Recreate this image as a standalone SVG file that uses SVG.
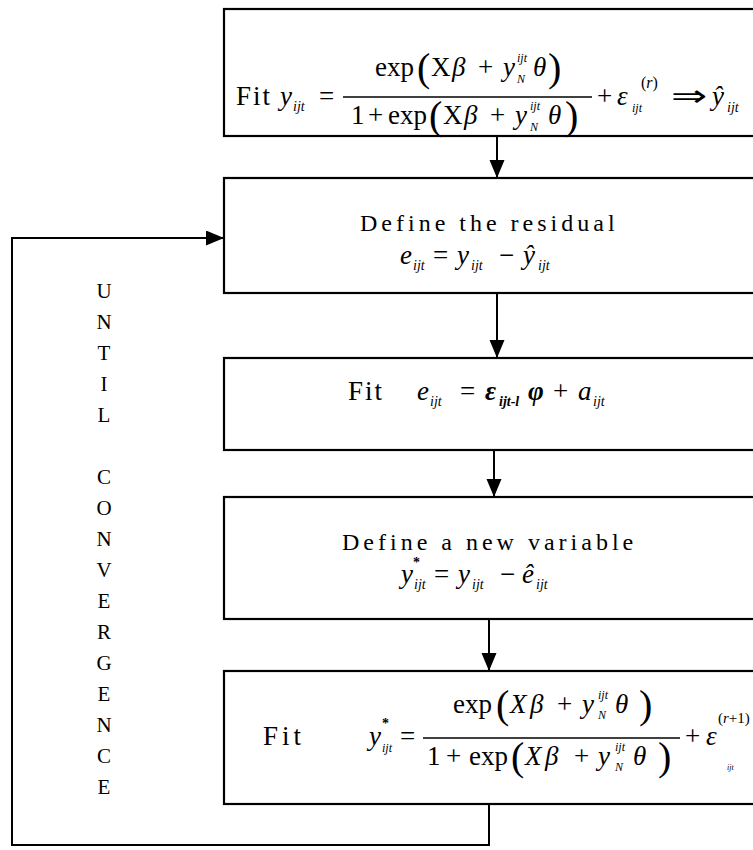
<svg xmlns="http://www.w3.org/2000/svg" width="753" height="850" viewBox="0 0 753 850">
<defs>
<style>
.t{font-family:"Liberation Serif","Times New Roman",serif;font-size:27px;fill:#000}
.i{font-style:italic}
.b{font-weight:bold}
.s{font-size:14px}
.ss{font-size:12px}
.p{font-size:40px}
.sp{letter-spacing:4px;font-size:24px}
.box{fill:#fff;stroke:#000;stroke-width:2.2}
.conn{fill:none;stroke:#000;stroke-width:2}
.bar{stroke:#000;stroke-width:1.3}
.lbl{font-family:"Liberation Serif","Times New Roman",serif;font-size:21px;fill:#000;text-anchor:middle}
</style>
<marker id="ah" markerUnits="userSpaceOnUse" markerWidth="18" markerHeight="16" refX="18" refY="7.5" orient="auto">
<path d="M0,0 L18,7.5 L0,15 z" fill="#000"/>
</marker>
</defs>
<rect width="753" height="850" fill="#fff"/>

<g id="connectors">
<line class="conn" x1="497" y1="136" x2="497" y2="178" marker-end="url(#ah)"/>
<line class="conn" x1="497" y1="293" x2="497" y2="358" marker-end="url(#ah)"/>
<line class="conn" x1="494" y1="450" x2="494" y2="497" marker-end="url(#ah)"/>
<line class="conn" x1="489" y1="619" x2="489" y2="671" marker-end="url(#ah)"/>
<path class="conn" d="M489,804 V845 H12 V238 H224" marker-end="url(#ah)"/>
</g>

<g id="loop-label">
<text class="lbl"><tspan x="104" y="298">U</tspan><tspan x="104" dy="31">N</tspan><tspan x="104" dy="31">T</tspan><tspan x="104" dy="31">I</tspan><tspan x="104" dy="31">L</tspan><tspan x="104" dy="62">C</tspan><tspan x="104" dy="31">O</tspan><tspan x="104" dy="31">N</tspan><tspan x="104" dy="31">V</tspan><tspan x="104" dy="31">E</tspan><tspan x="104" dy="31">R</tspan><tspan x="104" dy="31">G</tspan><tspan x="104" dy="31">E</tspan><tspan x="104" dy="31">N</tspan><tspan x="104" dy="31">C</tspan><tspan x="104" dy="31">E</tspan></text>
</g>

<g id="node1">
<rect class="box" x="224" y="9" width="560" height="127"/>
<text class="t" x="236" y="105" style="letter-spacing:2px">Fit</text>
<text class="t i" x="280" y="105">y</text><text class="t i s" x="293" y="111">ijt</text>
<text class="t" x="319" y="105">=</text>
<text class="t" x="375" y="76">exp</text>
<text class="t p" x="417" y="81">(</text>
<text class="t" x="431" y="76">X</text>
<text class="t i" x="452" y="76">β</text>
<text class="t" x="478" y="76">+</text>
<text class="t i" x="503" y="76">y</text>
<text class="t i ss" x="517" y="62">ijt</text>
<text class="t i ss" x="517" y="83">N</text>
<text class="t i" x="533" y="76">θ</text>
<text class="t p" x="548" y="81">)</text>
<line class="bar" x1="343" y1="97" x2="592" y2="97"/>
<text class="t" x="351" y="124">1</text>
<text class="t" x="368" y="124">+</text>
<text class="t" x="388" y="124">exp</text>
<text class="t p" x="429" y="129">(</text>
<text class="t" x="443" y="124">X</text>
<text class="t i" x="464" y="124">β</text>
<text class="t" x="490" y="124">+</text>
<text class="t i" x="515" y="124">y</text>
<text class="t i ss" x="530" y="110">ijt</text>
<text class="t i ss" x="530" y="131">N</text>
<text class="t i" x="548" y="124">θ</text>
<text class="t p" x="565" y="129">)</text>
<text class="t" x="597" y="105">+</text>
<text class="t i" x="617" y="105">ε</text>
<text class="t i ss" x="632" y="112">ijt</text>
<text class="t" x="641" y="88" style="font-size:16px">(<tspan class="i">r</tspan>)</text>
<text class="t" x="671" y="106" textLength="36" lengthAdjust="spacingAndGlyphs" style="font-size:30px">⇒</text>
<text class="t i" x="712" y="105">ŷ</text>
<text class="t i s" x="727" y="112">ijt</text>
</g>

<g id="node2">
<rect class="box" x="224" y="178" width="560" height="115"/>
<text class="t sp" x="360" y="231">Define the residual</text>
<text class="t i" x="400" y="264">e</text><text class="t i s" x="413" y="270">ijt</text>
<text class="t" x="433" y="264">=</text>
<text class="t i" x="457" y="264">y</text><text class="t i s" x="471" y="270">ijt</text>
<text class="t" x="499" y="264">−</text>
<text class="t i" x="523" y="264">ŷ</text><text class="t i s" x="538" y="270">ijt</text>
</g>

<g id="node3">
<rect class="box" x="224" y="358" width="560" height="92"/>
<text class="t" x="348" y="400" style="letter-spacing:2px">Fit</text>
<text class="t i" x="417" y="400">e</text><text class="t i s" x="430" y="406">ijt</text>
<text class="t" x="460" y="400">=</text>
<text class="t i b" x="485" y="400">ε</text><text class="t i b s" x="499" y="406">ijt-l</text>
<text class="t i b" x="528" y="400">φ</text>
<text class="t" x="553" y="400">+</text>
<text class="t i" x="578" y="400">a</text><text class="t i s" x="593" y="406">ijt</text>
</g>

<g id="node4">
<rect class="box" x="224" y="497" width="560" height="122"/>
<text class="t sp" x="342" y="550">Define a new variable</text>
<text class="t i" x="401" y="583">y</text><text class="t b s" x="413" y="567">*</text><text class="t i s" x="414" y="589">ijt</text>
<text class="t" x="434" y="583">=</text>
<text class="t i" x="458" y="583">y</text><text class="t i s" x="472" y="589">ijt</text>
<text class="t" x="500" y="583">−</text>
<text class="t i" x="522" y="583">ê</text><text class="t i s" x="536" y="589">ijt</text>
</g>

<g id="node5">
<rect class="box" x="224" y="671" width="560" height="133"/>
<text class="t" x="263" y="745" style="letter-spacing:4px">Fit</text>
<text class="t i" x="369" y="745">y</text><text class="t b s" x="382" y="728">*</text><text class="t i ss" x="382" y="752">ijt</text>
<text class="t" x="400" y="745">=</text>
<text class="t" x="453" y="713">exp</text>
<text class="t p" x="496" y="718">(</text>
<text class="t i" x="510" y="713">X</text>
<text class="t i" x="530" y="713">β</text>
<text class="t" x="557" y="713">+</text>
<text class="t i" x="582" y="713">y</text>
<text class="t i ss" x="598" y="699">ijt</text>
<text class="t i ss" x="598" y="719">N</text>
<text class="t i" x="615" y="713">θ</text>
<text class="t p" x="639" y="718">)</text>
<line class="bar" x1="423" y1="738" x2="680" y2="738"/>
<text class="t" x="427" y="765">1</text>
<text class="t" x="446" y="765">+</text>
<text class="t" x="469" y="765">exp</text>
<text class="t p" x="511" y="770">(</text>
<text class="t i" x="525" y="765">X</text>
<text class="t i" x="545" y="765">β</text>
<text class="t" x="574" y="765">+</text>
<text class="t i" x="598" y="765">y</text>
<text class="t i ss" x="615" y="751">ijt</text>
<text class="t i ss" x="615" y="771">N</text>
<text class="t i" x="633" y="765">θ</text>
<text class="t p" x="658" y="770">)</text>
<text class="t" x="685" y="745">+</text>
<text class="t i" x="706" y="745">ε</text>
<text class="t" x="718" y="723" style="font-size:15px">(<tspan class="i">r</tspan>+1)</text>
<text class="t i" x="727" y="770" style="font-size:8px">ijt</text>
</g>
</svg>
